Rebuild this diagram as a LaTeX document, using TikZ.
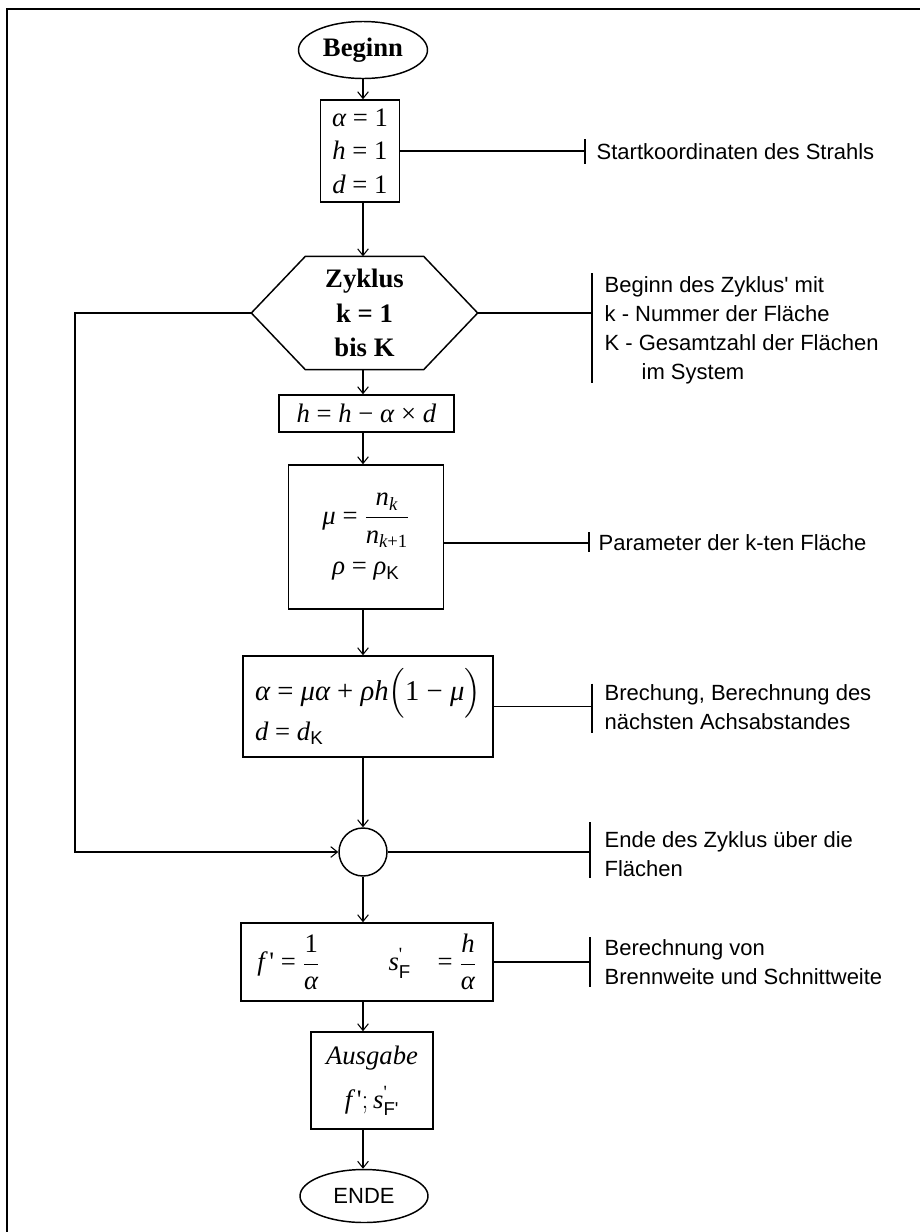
\documentclass[tikz,border=0pt]{standalone}
\usepackage{fontspec}
\usepackage{amsmath}
\setmainfont{Liberation Serif}
\newfontfamily\ann{Liberation Sans}
\usetikzlibrary{shapes.geometric,calc,arrows.meta}
\newdimen\px \px=0.75pt
\newcommand\notefont{\ann\fontsize{16.5}{21.75}\selectfont}
\newcommand\eqfont{\fontsize{20}{25}\selectfont}
\newcommand\pr{\textquotesingle}
\begin{document}
\begin{tikzpicture}[x=0.75pt,y=-0.75pt,line width=1pt,
  every node/.style={inner sep=0pt},
  box/.style={draw,rectangle,line width=1.1pt},
  term/.style={draw,ellipse,line width=1.1pt},
  arr/.style={-{Straight Barb[length=5pt,width=8pt,line width=0.8pt]}},
  conn/.style={line width=1.1pt},
  note/.style={font=\notefont,align=left,anchor=west},
]
\useasboundingbox (0,0) rectangle (920,1232);
% frame
\draw[line width=1.6pt] (7,1232) -- (7,9) -- (920,9);

\coordinate (axis) at (363,0);
\coordinate (lx) at (75,0);

% nodes
\node[term,minimum width=129\px,minimum height=57\px,font=\eqfont\bfseries] (beg) at (363,50) {Beginn};
\node[box,minimum width=79\px,minimum height=102\px,font=\eqfont,align=center] (b1) at (360,151)
  {{\itshape α} = 1\\ {\itshape h} = 1\\ {\itshape d} = 1};
\node[minimum width=225\px,minimum height=112\px,font=\eqfont\bfseries,align=center] (hex) at (364.5,313)
  {Zyklus\\[1pt] k = 1\\[1pt] bis K};
\draw[line width=1.1pt] (hex.west) -- ($(hex.north west)+(54,0)$) -- ($(hex.north east)+(-54,0)$) -- (hex.east)
  -- ($(hex.south east)+(-54,0)$) -- ($(hex.south west)+(54,0)$) -- cycle;
\node[box,minimum width=175\px,minimum height=37\px,font=\eqfont] (bh) at (366.5,413.5)
  {\textit{h} = \textit{h} − \textit{α} × \textit{d}};
\node[box,minimum width=155\px,minimum height=144\px,font=\eqfont,align=center] (bmu) at (366,537)
  {$\textit{μ}\text{ = }\dfrac{\textit{n}_{\textit{k}}}{\textit{n}_{\textit{k}\text{+1}}}$\\[10pt]
   \textit{ρ} = \textit{ρ}\textsubscript{\ann K}};
\node[box,minimum width=250\px,minimum height=101\px,font=\eqfont,align=left] (ba) at (368,706.5)
  {\fontsize{21.5}{27}\selectfont
   $\textit{α}\text{ = }\textit{μα}\text{ + }\textit{ρh}\Bigl(\text{1 − }\textit{μ}\Bigr)$\\[2pt]
   \textit{d} = \textit{d}\textsubscript{\ann K}\hspace*{110pt}};
\node[draw,circle,minimum size=48\px,line width=1.1pt] (cyc) at (363,852) {};
\node[box,minimum width=252\px,minimum height=78\px,font=\eqfont] (bf) at (367,962)
  {$\textit{f}\,\text{\pr}\text{ = }\dfrac{\text{1}}{\textit{α}}\qquad\;\; \textit{s}^{\text{\pr}}_{\text{\ann F}}\text{\quad = }\dfrac{\textit{h}}{\textit{α}}$};
\node[box,minimum width=122\px,minimum height=97\px,font=\eqfont,align=center] (bo) at (372,1080.5)
  {\textit{Ausgabe}\\[8pt] $\textit{f}\,\text{\pr};\textit{s}^{\text{\pr}}_{\text{\ann F\pr}}$};
\node[term,minimum width=128\px,minimum height=53\px,font=\notefont] (ende) at (364,1196) {ENDE};

% main flow
\draw[conn,arr] (beg.south -| axis) -- (b1.north -| axis);
\draw[conn,arr] (b1.south -| axis) -- (hex.north -| axis);
\draw[conn,arr] (hex.south -| axis) -- (bh.north -| axis);
\draw[conn,arr] (bh.south -| axis) -- (bmu.north -| axis);
\draw[conn,arr] (bmu.south -| axis) -- (ba.north -| axis);
\draw[conn,arr] (ba.south -| axis) -- (cyc.north);
\draw[conn,arr] (cyc.south) -- (bf.north -| axis);
\draw[conn,arr] (bf.south -| axis) -- (bo.north -| axis);
\draw[conn,arr] (bo.south -| axis) -- (ende.north -| axis);
% loop
\draw[conn,arr] (hex.west) -- (hex.west -| lx) |- (cyc.west);

% annotations
\coordinate (t1) at (585,151);
\draw[conn] (b1.east) -- (b1.east -| t1);
\draw[conn] ($(t1)+(0,-12)$) -- ($(t1)+(0,13)$);
\node[note] (n1) at (596,152) {Startkoordinaten des Strahls};

\coordinate (t2) at (592,313);
\draw[conn] (hex.east) -- (hex.east -| t2);
\draw[conn] ($(t2)+(0,-40)$) -- ($(t2)+(0,70)$);
\node[note] (n2) at (604,330.5) {Beginn des Zyklus\pr{} mit\\k - Nummer der Fläche\\K - Gesamtzahl der Flächen\\\hspace*{27.75pt}im System};

\coordinate (t3) at (589,543);
\draw[conn] (bmu.east |- t3) -- (t3);
\draw[conn] ($(t3)+(0,-11)$) -- ($(t3)+(0,9)$);
\node[note] (n3) at (598,543) {Parameter der k-ten Fläche};

\coordinate (t4) at (592,706.5);
\draw[conn] (ba.east) -- (ba.east -| t4);
\draw[conn] ($(t4)+(0,-23)$) -- ($(t4)+(0,26)$);
\node[note] (n4) at (604,707) {Brechung, Berechnung des\\nächsten Achsabstandes};

\coordinate (t5) at (590,852);
\draw[conn] (cyc.east) -- (t5);
\draw[conn] ($(t5)+(0,-30)$) -- ($(t5)+(0,26)$);
\node[note] (n5) at (604,854) {Ende des Zyklus über die\\Flächen};

\coordinate (t6) at (590,962);
\draw[conn] (bf.east) -- (bf.east -| t6);
\draw[conn] ($(t6)+(0,-25)$) -- ($(t6)+(0,25)$);
\node[note] (n6) at (604,962.5) {Berechnung von\\Brennweite und Schnittweite};
\end{tikzpicture}
\end{document}
